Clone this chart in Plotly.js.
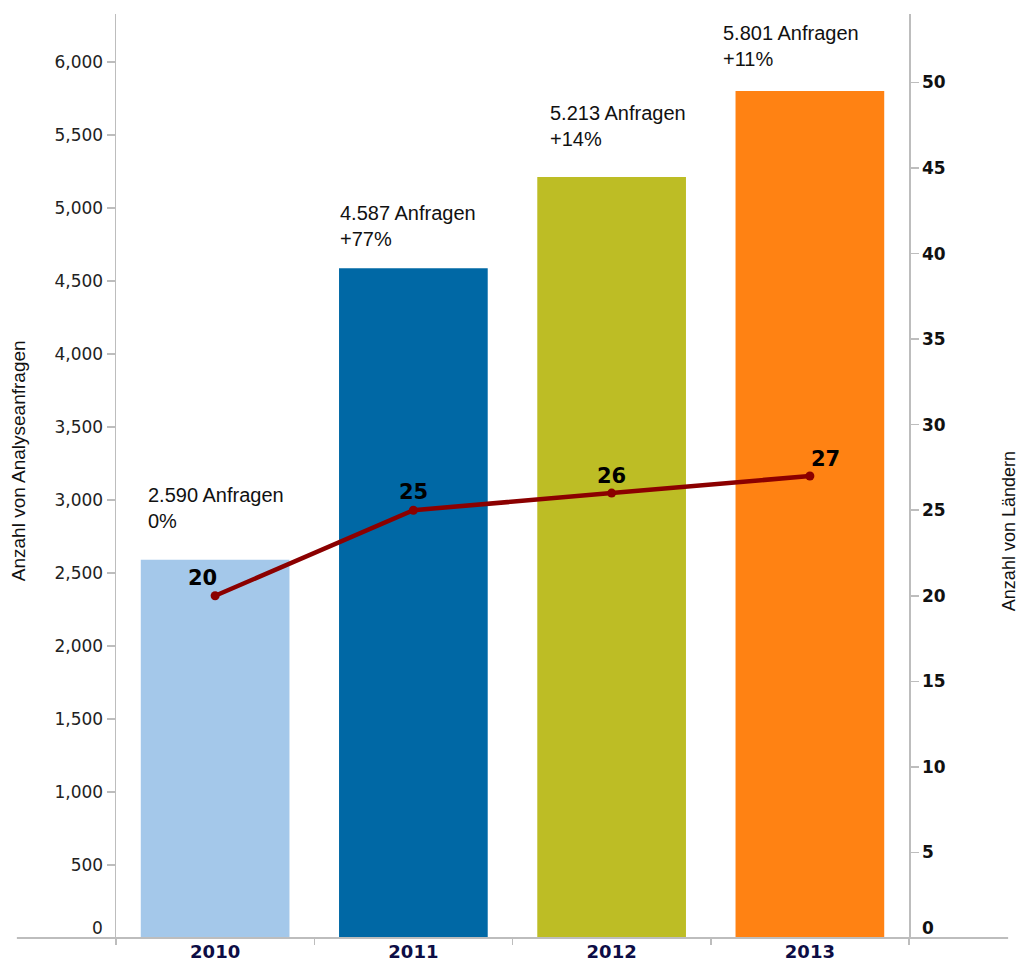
<!DOCTYPE html>
<html>
<head>
<meta charset="utf-8">
<script src="https://cdn.plot.ly/plotly-3.0.1.min.js"></script>
<style>html,body{margin:0;padding:0;background:#fff;}#chart{width:1019px;height:962px;}</style>
</head>
<body>
<div id="chart"></div>
<script>
// ---- data ----
var years = ['2010', '2011', '2012', '2013'];
var requests = [2590, 4587, 5213, 5801];
var countries = [20, 25, 26, 27];
var requestLabels = ['2.590 Anfragen<br>0%', '4.587 Anfragen<br>+77%', '5.213 Anfragen<br>+14%', '5.801 Anfragen<br>+11%'];
var countryLabels = ['20', '25', '26', '27'];
var leftTicks = [500, 1000, 1500, 2000, 2500, 3000, 3500, 4000, 4500, 5000, 5500, 6000];
var rightTicks = [5, 10, 15, 20, 25, 30, 35, 40, 45, 50];

// ---- style ----
var barColors = ['#a4c8ea', '#0068a5', '#bdbd25', '#ff8213'];
var lineColor = '#8b0000';
var annoDx = [-0.35, -0.38, -0.32, -0.45];
var annoDy = [52, 42, 51, 45];
var lblShiftX = [-13, 0, 0, 16];
var lblShiftY = [18, 18, 17, 17];
var axisGrey = '#bdbdbd';
var tickFamily = 'DejaVu Sans, Verdana, sans-serif';
var textFamily = 'Liberation Sans, Arial, sans-serif';

var bars = {
  type: 'bar', x: years, y: requests, width: 0.75,
  marker: {color: barColors}, hoverinfo: 'x+y', showlegend: false
};
var line = {
  type: 'scatter', mode: 'lines+markers', x: years, y: countries, yaxis: 'y2',
  line: {color: lineColor, width: 4.5}, marker: {color: lineColor, size: 9},
  showlegend: false
};

var annotations = [];
years.forEach(function (yr, i) {
  annotations.push({
    xref: 'x', yref: 'y', x: i + annoDx[i], y: requests[i],
    xanchor: 'left', yanchor: 'middle', align: 'left', yshift: annoDy[i],
    text: requestLabels[i], showarrow: false,
    font: {family: textFamily, size: 20, color: '#111'}
  });
  annotations.push({
    xref: 'x', yref: 'y2', x: i, y: countries[i],
    xanchor: 'center', yanchor: 'middle', xshift: lblShiftX[i], yshift: lblShiftY[i],
    text: '<b>' + countryLabels[i] + '</b>', showarrow: false,
    font: {family: tickFamily, size: 21, color: '#000'}
  });
});
// zero labels (drawn slightly above the baseline as in the original)
annotations.push({
  xref: 'paper', yref: 'y', x: 0, y: 0, xanchor: 'right', yanchor: 'middle',
  xshift: -11, yshift: 10, text: '0', showarrow: false,
  font: {family: tickFamily, size: 17, color: '#222'}
});
annotations.push({
  xref: 'paper', yref: 'y', x: 1, y: 0, xanchor: 'left', yanchor: 'middle',
  xshift: 11, yshift: 10, text: '<b>0</b>', showarrow: false,
  font: {family: tickFamily, size: 17, color: '#111'}
});
annotations.push({
  xref: 'paper', yref: 'paper', x: -0.123, y: 0.5165, textangle: -90,
  xanchor: 'center', yanchor: 'middle', showarrow: false,
  text: 'Anzahl von Analyseanfragen',
  font: {family: textFamily, size: 19, color: '#111'}
});
annotations.push({
  xref: 'paper', yref: 'paper', x: 1.127, y: 0.4400, textangle: -90,
  xanchor: 'center', yanchor: 'middle', showarrow: false,
  text: 'Anzahl von Ländern',
  font: {family: textFamily, size: 18, color: '#111'}
});

var layout = {
  width: 1019, height: 962,
  margin: {l: 116, r: 110, t: 14, b: 24},
  paper_bgcolor: '#fff', plot_bgcolor: '#fff',
  showlegend: false, bargap: 0.25,
  xaxis: {
    type: 'category', range: [-0.5, 3.5], tickson: 'boundaries',
    ticks: 'outside', ticklen: 6, tickcolor: axisGrey, tickwidth: 1.5,
    ticklabelstandoff: 1,
    showline: false, showgrid: false, zeroline: false,
    tickfont: {family: tickFamily, size: 18, color: '#0d0d45', weight: 'bold'},
    fixedrange: true
  },
  yaxis: {
    range: [0, 6329], tickvals: leftTicks,
    tickformat: ',d', showgrid: false, zeroline: false,
    showline: true, linecolor: axisGrey, linewidth: 1.5,
    ticks: 'outside', ticklen: 8, tickcolor: axisGrey, tickwidth: 1.5,
    tickfont: {family: tickFamily, size: 17, color: '#222'},
    fixedrange: true
  },
  yaxis2: {
    overlaying: 'y', side: 'right', range: [0, 54.0],
    tickvals: rightTicks,
    showgrid: false, zeroline: false,
    showline: true, linecolor: axisGrey, linewidth: 1.5,
    ticks: 'outside', ticklen: 8, tickcolor: axisGrey, tickwidth: 1.5,
    tickfont: {family: tickFamily, size: 17, color: '#111', weight: 'bold'},
    fixedrange: true
  },
  shapes: [{
    type: 'line', xref: 'paper', yref: 'paper', x0: -0.125, x1: 1.125, y0: 0, y1: 0,
    line: {color: axisGrey, width: 2}
  }],
  annotations: annotations
};

Plotly.newPlot('chart', [bars, line], layout, {displayModeBar: false, staticPlot: true});
</script>
</body>
</html>
